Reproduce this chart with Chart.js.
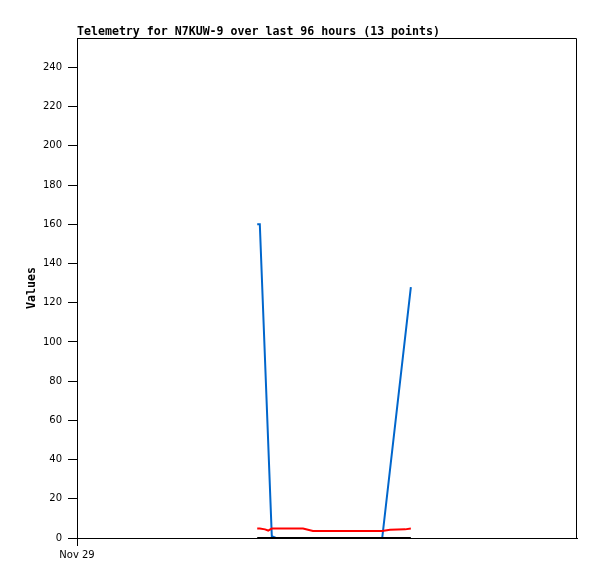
<!DOCTYPE html>
<html>
<head>
<meta charset="utf-8">
<script src="https://cdn.jsdelivr.net/npm/chart.js@4/dist/chart.umd.min.js"></script>
<style>
  html, body { margin: 0; padding: 0; background: #fff; }
  #wrap { width: 597px; height: 579px; }
</style>
</head>
<body>
<div id="wrap"><canvas id="chart" width="597" height="579"></canvas></div>
<script>
// --- datos (horas desde Nov 29 00:00) ---
const hours = [34.6, 35.1, 36.1, 36.7, 37.4, 38.2, 43.4, 45.3, 50.5, 58.6, 60.1, 63.0, 64.1];
const blueVals = [160, 160, null, null, 1, 0, 0, 0, 0, 0, null, null, 128];
const redVals = [4.8, 4.8, 4.4, 3.8, 4.8, 4.8, 4.8, 3.6, 3.6, 3.6, 4.2, 4.4, 4.8];
const blackVals = [0, 0, 0, 0, 0, 0, 0, 0, 0, 0, 0, 0, 0];
const xTicks = [0];
const xTickLabels = ['Nov 29'];
const yTicks = [0, 20, 40, 60, 80, 100, 120, 140, 160, 180, 200, 220, 240];
const titleText = 'Telemetry for N7KUW-9 over last 96 hours (13 points)';

const pts = vals => hours.map((h, i) => ({ x: h, y: vals[i] }));

// marco + título
const framePlugin = {
    id: 'frame',
    afterDraw(chart) {
        const { ctx, chartArea: a } = chart;
        ctx.save();
        ctx.strokeStyle = '#000';
        ctx.lineWidth = 1;
        ctx.beginPath();
        ctx.moveTo(a.left, a.top + 0.5);
        ctx.lineTo(a.right - 0.5, a.top + 0.5);
        ctx.lineTo(a.right - 0.5, a.bottom);
        ctx.stroke();
        ctx.fillStyle = '#000';
        ctx.font = 'bold 11.6px "DejaVu Sans Mono"';
        ctx.textBaseline = 'alphabetic';
        ctx.fillText(titleText, a.left, 35);
        ctx.restore();
    }
};

const tickFont = { family: 'DejaVu Sans', size: 10 };

new Chart(document.getElementById('chart'), {
    type: 'line',
    data: {
        datasets: [
            { data: pts(blackVals), borderColor: '#000000', borderWidth: 2 },
            { data: pts(redVals), borderColor: '#ff0000', borderWidth: 2 },
            { data: pts(blueVals), borderColor: '#0066cc', borderWidth: 2, spanGaps: true }
        ]
    },
    options: {
        responsive: false,
        animation: false,
        layout: { padding: { top: 38, right: 20, bottom: 0, left: 0 } },
        elements: { point: { radius: 0 }, line: { tension: 0 } },
        plugins: { legend: { display: false }, title: { display: false }, tooltip: { enabled: false } },
        scales: {
            x: {
                type: 'linear',
                min: 0,
                max: 96,
                afterBuildTicks: s => { s.ticks = xTicks.map(v => ({ value: v })); },
                afterFit: s => { s.height = 41; },
                grid: { drawOnChartArea: false, tickLength: 8, color: '#000' },
                border: { color: '#000' },
                ticks: {
                    color: '#000', font: tickFont, padding: 3, maxRotation: 0,
                    callback: (v) => xTickLabels[xTicks.indexOf(v)] || ''
                }
            },
            y: {
                min: 0,
                max: 255,
                afterBuildTicks: s => { s.ticks = yTicks.map(v => ({ value: v })); },
                afterFit: s => { s.width = 77; },
                grid: { drawOnChartArea: false, tickLength: 9, color: '#000' },
                border: { color: '#000' },
                ticks: { color: '#000', font: tickFont, padding: 6 },
                title: {
                    display: true, text: 'Values', color: '#000',
                    font: { family: 'DejaVu Sans Mono', weight: 'bold', size: 11.6 },
                    padding: { top: 25, bottom: 0 }
                }
            }
        }
    },
    plugins: [framePlugin]
});
</script>
</body>
</html>
